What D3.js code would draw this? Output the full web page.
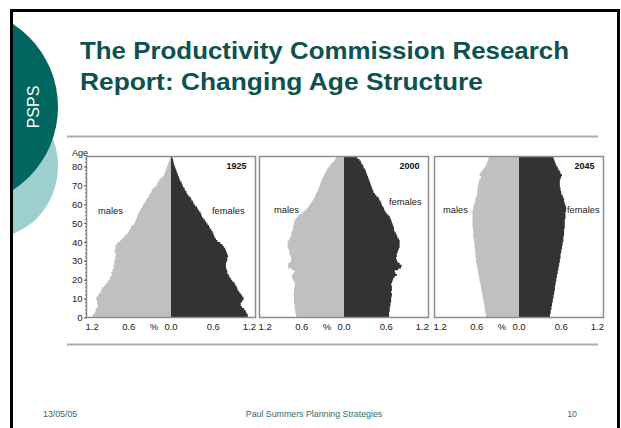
<!DOCTYPE html>
<html><head><meta charset="utf-8">
<script src="https://cdn.jsdelivr.net/npm/d3@7"></script>
<style>
html,body{margin:0;padding:0;background:#fff;}
svg{display:block;}
</style></head>
<body>
<svg id="c" width="621" height="428"></svg>
<script>
// ---------------- DATA ----------------
const years = ["1925", "2000", "2045"];
const ages = d3.range(0, 85); // single-year age groups 0..84
const yTickLabels = [0, 10, 20, 30, 40, 50, 60, 70, 80];
const xTickValues = [-1.2, -0.6, 0, 0.6, 1.2];
const xTickLabels = ["1.2", "0.6", "0.0", "0.6", "1.2"];

const males1925 = [1.11,1.11,1.08,1.07,1.07,1.04,1.04,1.05,1.05,1.06,1.06,1.04,1.02,1.00,0.99,0.98,0.95,0.93,0.91,0.89,
  0.87,0.86,0.84,0.85,0.83,0.83,0.81,0.82,0.80,0.81,0.80,0.79,0.79,0.78,0.80,0.80,0.79,0.79,0.78,0.76,
  0.72,0.70,0.67,0.65,0.62,0.60,0.59,0.57,0.56,0.53,0.51,0.50,0.49,0.48,0.47,0.46,0.44,0.43,0.41,0.40,
  0.38,0.36,0.35,0.33,0.31,0.30,0.28,0.27,0.25,0.22,0.20,0.19,0.17,0.15,0.12,0.10,0.09,0.08,0.07,0.06,
  0.05,0.04,0.03,0.02,0.015];
const females1925 = [1.09,1.09,1.07,1.06,1.04,1.01,0.99,0.99,1.01,1.03,1.03,1.01,0.99,0.97,0.95,0.94,0.93,0.91,0.90,0.87,
  0.85,0.83,0.82,0.80,0.80,0.79,0.78,0.78,0.78,0.79,0.80,0.80,0.81,0.80,0.79,0.78,0.77,0.75,0.73,0.70,
  0.66,0.64,0.62,0.61,0.60,0.59,0.57,0.55,0.54,0.52,0.50,0.48,0.46,0.44,0.43,0.42,0.40,0.38,0.37,0.34,
  0.32,0.31,0.29,0.28,0.25,0.23,0.22,0.20,0.19,0.17,0.16,0.15,0.13,0.12,0.11,0.10,0.09,0.08,0.07,0.06,
  0.05,0.04,0.035,0.03,0.02];
const males2000 = [0.68,0.68,0.69,0.69,0.70,0.70,0.70,0.71,0.71,0.71,0.71,0.72,0.71,0.71,0.71,0.71,0.70,0.70,0.70,0.72,
  0.73,0.74,0.74,0.72,0.70,0.74,0.79,0.80,0.79,0.76,0.75,0.75,0.76,0.77,0.78,0.78,0.79,0.80,0.80,0.80,
  0.79,0.78,0.76,0.75,0.75,0.74,0.73,0.72,0.72,0.71,0.71,0.70,0.68,0.66,0.63,0.59,0.56,0.53,0.51,0.49,
  0.47,0.45,0.43,0.42,0.41,0.40,0.38,0.37,0.36,0.35,0.34,0.33,0.32,0.31,0.29,0.28,0.27,0.25,0.24,0.22,
  0.20,0.18,0.15,0.13,0.11];
const females2000 = [0.64,0.64,0.64,0.65,0.65,0.65,0.66,0.66,0.67,0.67,0.67,0.68,0.68,0.67,0.68,0.68,0.68,0.67,0.68,0.69,
  0.70,0.72,0.75,0.73,0.72,0.77,0.81,0.82,0.79,0.76,0.75,0.74,0.75,0.75,0.76,0.77,0.78,0.79,0.79,0.79,
  0.79,0.78,0.76,0.75,0.74,0.72,0.71,0.71,0.70,0.69,0.68,0.67,0.66,0.65,0.62,0.60,0.58,0.57,0.56,0.54,
  0.53,0.52,0.50,0.49,0.46,0.44,0.42,0.41,0.40,0.39,0.38,0.37,0.36,0.35,0.34,0.33,0.32,0.31,0.30,0.28,
  0.27,0.25,0.24,0.22,0.19];
const males2045 = [0.47,0.47,0.48,0.48,0.49,0.49,0.49,0.50,0.50,0.51,0.51,0.52,0.52,0.53,0.53,0.54,0.54,0.55,0.55,0.56,
  0.56,0.57,0.57,0.58,0.58,0.59,0.59,0.60,0.60,0.61,0.61,0.61,0.62,0.62,0.62,0.62,0.63,0.63,0.63,0.64,
  0.64,0.64,0.65,0.65,0.65,0.65,0.65,0.66,0.66,0.66,0.66,0.66,0.66,0.66,0.66,0.66,0.66,0.65,0.65,0.64,
  0.63,0.62,0.62,0.61,0.60,0.60,0.59,0.59,0.59,0.58,0.58,0.57,0.57,0.55,0.54,0.56,0.55,0.53,0.51,0.49,
  0.47,0.46,0.45,0.44,0.43];
const females2045 = [0.44,0.44,0.45,0.45,0.46,0.46,0.47,0.47,0.48,0.48,0.49,0.49,0.50,0.50,0.51,0.51,0.51,0.52,0.52,0.53,
  0.53,0.54,0.54,0.55,0.55,0.56,0.56,0.57,0.57,0.58,0.58,0.59,0.59,0.59,0.60,0.60,0.61,0.61,0.62,0.62,
  0.63,0.63,0.63,0.64,0.64,0.64,0.64,0.65,0.65,0.65,0.65,0.65,0.66,0.66,0.66,0.66,0.67,0.67,0.67,0.66,
  0.65,0.64,0.64,0.63,0.62,0.60,0.60,0.59,0.59,0.58,0.58,0.58,0.58,0.59,0.60,0.61,0.59,0.58,0.56,0.55,
  0.53,0.52,0.51,0.50,0.49];

const maleSeries = [males1925, males2000, males2045];
const femaleSeries = [females1925, females2000, females2045];

// ---------------- LAYOUT ----------------
const svg = d3.select("#c");
const panelLefts = [86.5, 259.5, 434.5];
const panelW = 169;
const yTop = 156.5, yBottom = 317.5;
const maleLabelPos = [[98, 213.5], [274, 213], [443, 212.5]];
const femaleLabelDx = [41, 45, 48];
const femaleLabelY = [213.5, 205, 212.5];

const teal = "#00665f", lightTeal = "#9ccfcd", titleColor = "#0c524e", footColor = "#2f6d6b";

// background decoration: circles on the left
const defs = svg.append("defs");
defs.append("clipPath").attr("id", "clipL").append("rect").attr("x", 13).attr("y", 12).attr("width", 200).attr("height", 420);
const deco = svg.append("g").attr("clip-path", "url(#clipL)");
deco.append("ellipse").attr("cx", -10).attr("cy", 166).attr("rx", 68).attr("ry", 72).attr("fill", lightTeal);
deco.append("circle").attr("cx", -41).attr("cy", 107).attr("r", 99).attr("fill", teal);

svg.append("text").attr("transform", "translate(39,107) rotate(-90)")
  .attr("text-anchor", "middle").attr("fill", "#fff")
  .attr("font-family", "'Liberation Sans', Arial, sans-serif").attr("font-size", 16)
  .text("PSPS");

// slide border
svg.append("rect").attr("x", 11.5).attr("y", 10.5).attr("width", 607).attr("height", 500)
  .attr("fill", "none").attr("stroke", "#000").attr("stroke-width", 3);

// title
const titleLines = ["The Productivity Commission Research", "Report: Changing Age Structure"];
const titleLens = [489, 403];
titleLines.forEach((t, i) => {
  svg.append("text").attr("x", 80).attr("y", 59 + i * 30.5)
    .attr("fill", titleColor)
    .attr("font-family", "'Liberation Sans', Arial, sans-serif").attr("font-weight", "bold")
    .attr("font-size", 24.5)
    .attr("textLength", titleLens[i]).attr("lengthAdjust", "spacingAndGlyphs")
    .text(t);
});

// separator lines
[136.5, 344.5].forEach(yy => {
  svg.append("line").attr("x1", 67).attr("x2", 598).attr("y1", yy).attr("y2", yy)
    .attr("stroke", "#adadad").attr("stroke-width", 2);
});

// ---------------- CHARTS ----------------
const y = d3.scaleLinear().domain([0, 85.3]).range([yBottom, yTop]);
const fontF = "'Liberation Sans', Arial, sans-serif";

// expand one-year groups into step outline points (bottom and top of each group)
function steps(values) {
  const pts = [];
  ages.forEach(a => { pts.push({ age: a, v: values[a] }); pts.push({ age: a + 1, v: values[a] }); });
  return pts;
}

years.forEach((yr, p) => {
  const x = d3.scaleLinear().domain([-1.2, 1.2]).range([panelLefts[p], panelLefts[p] + panelW]);
  const g = svg.append("g");

  const maleArea = d3.area().y(d => y(d.age)).x0(x(0)).x1(d => x(-d.v));
  const femaleArea = d3.area().y(d => y(d.age)).x0(x(0)).x1(d => x(d.v));

  g.append("path").datum(steps(maleSeries[p])).attr("d", maleArea).attr("fill", "#c0c0c0");
  g.append("path").datum(steps(femaleSeries[p])).attr("d", femaleArea).attr("fill", "#333333");

  // frame
  g.append("rect").attr("x", panelLefts[p]).attr("y", yTop).attr("width", panelW).attr("height", yBottom - yTop)
    .attr("fill", "none").attr("stroke", "#8e8e8e").attr("stroke-width", 1.5);

  // x labels
  const xg = g.append("g").attr("font-family", fontF).attr("font-size", 9.5).attr("fill", "#222");
  xTickValues.forEach((v, i) => {
    let anchor = "middle", xx = x(v);
    if (i === 0) { anchor = "start"; xx = x(v) - 1; }
    if (i === xTickValues.length - 1) { anchor = "end"; xx = x(v) + 0.5; }
    xg.append("text").attr("x", xx).attr("y", 329.5).attr("text-anchor", anchor).text(xTickLabels[i]);
  });
  xg.append("text").attr("x", x(-0.24)).attr("y", 329.5).attr("text-anchor", "middle").text("%");

  // year label
  g.append("text").attr("x", panelLefts[p] + panelW - 9).attr("y", 168.5).attr("text-anchor", "end")
    .attr("font-family", fontF).attr("font-size", 9).attr("font-weight", "bold").attr("fill", "#111").text(yr);

  // males / females labels
  g.append("text").attr("x", maleLabelPos[p][0]).attr("y", maleLabelPos[p][1])
    .attr("font-family", fontF).attr("font-size", 9.3).attr("fill", "#222").text("males");
  g.append("text").attr("x", x(0) + femaleLabelDx[p]).attr("y", femaleLabelY[p])
    .attr("font-family", fontF).attr("font-size", 9.3).attr("fill", "#222").text("females");
});

// y axis for first panel
const yAxis = d3.axisLeft(y).tickValues(yTickLabels).tickSize(2.5).tickPadding(1.5).tickFormat(d3.format("d"));
const ya = svg.append("g").attr("transform", `translate(${panelLefts[0]},0)`).call(yAxis);
ya.select(".domain").remove();
ya.selectAll("line").attr("stroke", "#555");
ya.selectAll("text").attr("font-family", fontF).attr("font-size", 9.5).attr("fill", "#222");
// minor ticks
svg.append("g").selectAll("line").data(d3.range(0, 86, 2)).join("line")
  .attr("x1", panelLefts[0] - 1.5).attr("x2", panelLefts[0]).attr("y1", d => y(d)).attr("y2", d => y(d))
  .attr("stroke", "#777").attr("stroke-width", 1);
svg.append("text").attr("x", 72).attr("y", 155.5).attr("font-family", fontF).attr("font-size", 9)
  .attr("fill", "#222").text("Age");

// footer
const footer = [["13/05/05", 43, "start"], ["Paul Summers Planning Strategies", 314, "middle"], ["10", 577, "end"]];
footer.forEach(f => {
  svg.append("text").attr("x", f[1]).attr("y", 417).attr("text-anchor", f[2])
    .attr("font-family", fontF).attr("font-size", 8.8).attr("fill", footColor).text(f[0]);
});
</script>
</body></html>
